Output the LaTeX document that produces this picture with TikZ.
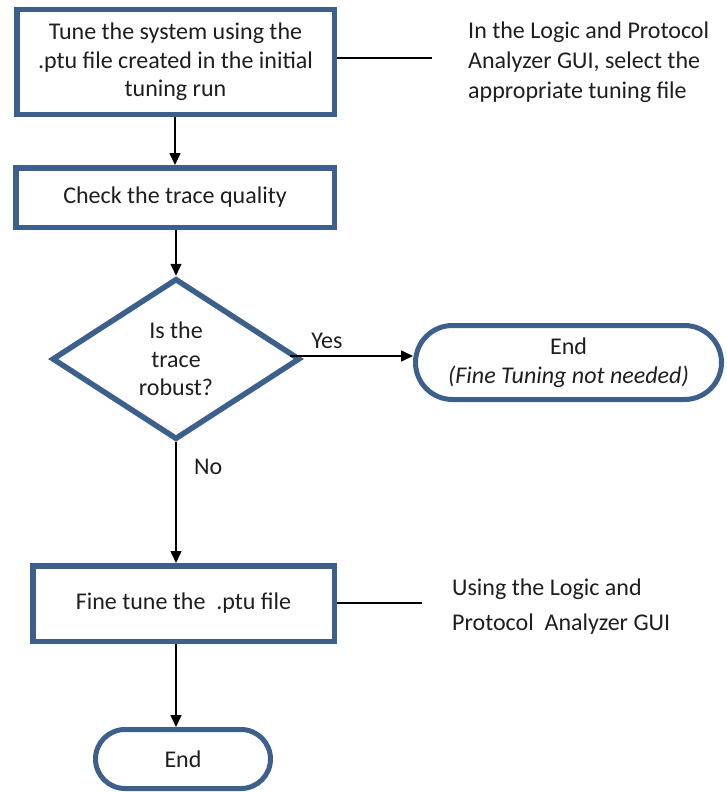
\documentclass[tikz,border=0pt]{standalone}
\usepackage{fontspec}
\setmainfont{Carlito}
\usetikzlibrary{arrows.meta,shapes.geometric,shapes.misc}
\definecolor{boxblue}{RGB}{61,95,140}
\definecolor{txt}{RGB}{30,30,30}
\begin{document}
\begin{tikzpicture}[x=1pt,y=-1pt,
  every node/.style={font=\fontsize{24}{28.5}\selectfont, text=txt},
  stepbox/.style={draw=boxblue, line width=5.5pt, rectangle, inner sep=0pt, align=center},
  decide/.style={draw=boxblue, line width=5.5pt, diamond, inner sep=0pt, align=center},
  terminal/.style={draw=boxblue, line width=5pt, rounded rectangle, inner sep=0pt, align=center},
  note/.style={align=left, anchor=west, inner sep=0pt},
  arr/.style={draw=black, line width=1.6pt, -{Triangle[length=12pt,width=11pt]}},
  link/.style={draw=black, line width=1.6pt}]
\useasboundingbox (0,0) rectangle (727,792);

\node[stepbox, minimum width=317.5pt, minimum height=104.5pt] (b1) at (175.5,62)
  {Tune the system using the\\.ptu file created in the initial\\tuning run};
\node[stepbox, minimum width=318.5pt, minimum height=59.5pt] (b2) at (175,197.5)
  {Check the trace quality};
\node[decide, minimum width=248pt, minimum height=161pt] (d) at (176,359)
  {\fontsize{24}{29}\selectfont Is the\\trace\\robust?};
\node[terminal, minimum width=306pt, minimum height=74pt] (e1) at (568.5,362.5)
  {End\\\textit{(Fine Tuning not needed)}};
\node[stepbox, minimum width=301.5pt, minimum height=75.5pt] (b3) at (183.5,603.5)
  {Fine tune the\ \ .ptu file};
\node[terminal, minimum width=175pt, minimum height=59pt] (e2) at (183,759)
  {End};

\node[note, font=\fontsize{24}{30}\selectfont] (n1) at (468,62)
  {In the Logic and Protocol\\Analyzer GUI, select the\\appropriate tuning file};
\node[note, font=\fontsize{24}{35}\selectfont] (n2) at (452,607)
  {Using the Logic and\\Protocol\ \ Analyzer GUI};

\coordinate (a1) at (432,58);
\coordinate (a2) at (422,603);
\coordinate (ya) at (290,356);

\draw[link] (b1.east |- a1) -- (a1);
\draw[link] (b3.east |- a2) -- (a2);

\draw[arr] (b1.south -| b2.north) -- (b2.north);
\draw[arr] (b2.south -| d.north) -- (d.north);
\draw[arr] (ya) -- (e1.west |- ya) node[pos=0.3, above=3pt] (yes) {Yes};
\draw[arr] (d.south) -- (d.south |- b3.north) node[pos=0.2, right=14pt] (no) {No};
\draw[arr] (b3.south -| d.south) -- (d.south |- e2.north);
\end{tikzpicture}
\end{document}
